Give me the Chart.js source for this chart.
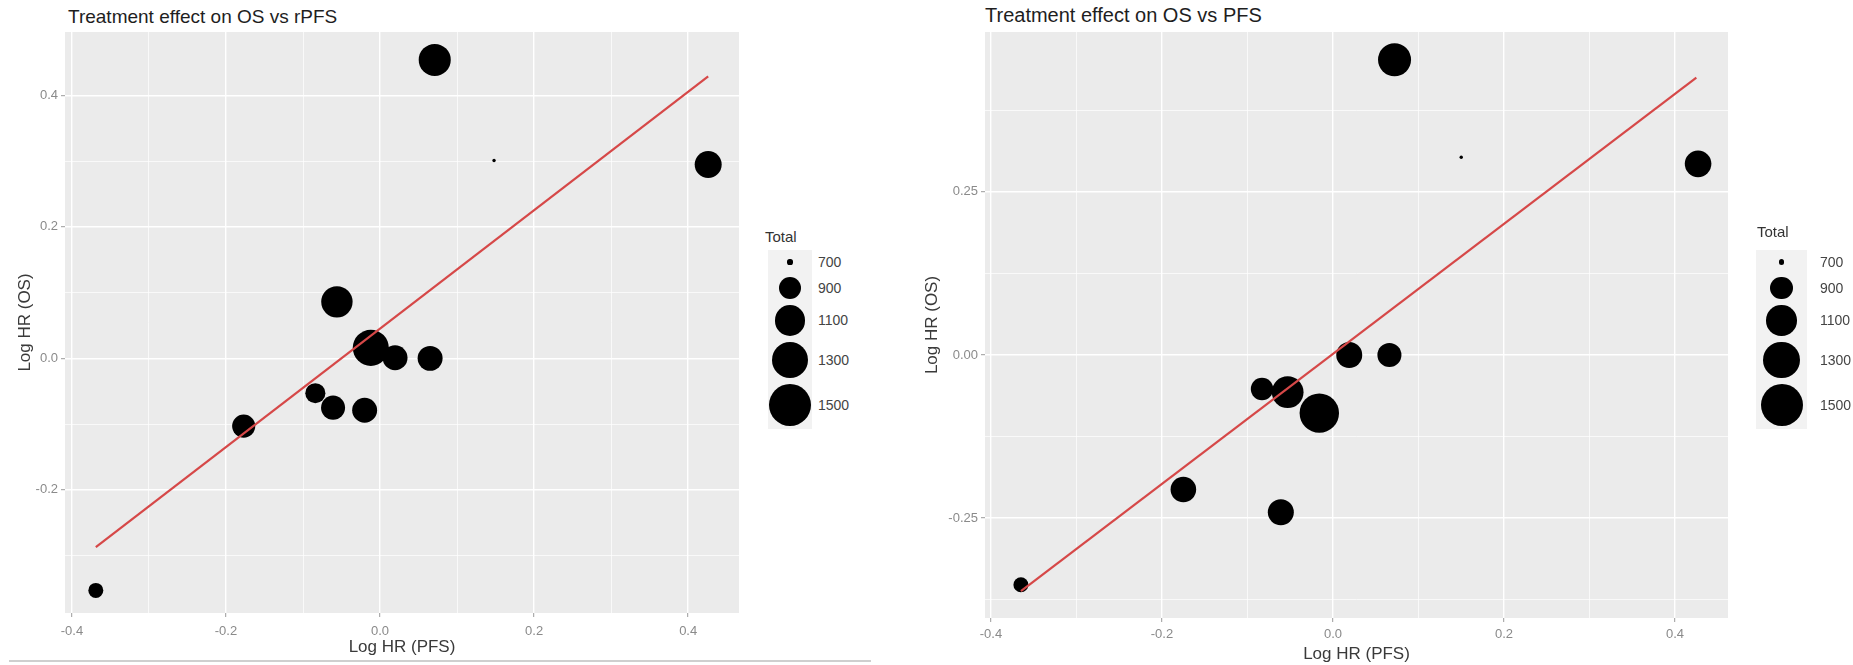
<!DOCTYPE html>
<html>
<head>
<meta charset="utf-8">
<title>Treatment effect on OS vs rPFS / PFS</title>
<script src="https://cdn.jsdelivr.net/npm/chart.js@4.4.0/dist/chart.umd.min.js"></script>
<style>
  body { margin: 0; background: #fff; font-family: "Liberation Sans", Arial, sans-serif; }
  #page { position: relative; width: 1853px; height: 665px; overflow: hidden; }
  canvas { position: absolute; top: 0; }
  .plot-title { position: absolute; color: #1e1e1e; white-space: nowrap; }
  .size-legend { position: absolute; color: #444; }
  .size-legend .lg-title { position: absolute; font-size: 15px; color: #333; white-space: nowrap; }
  .size-legend .lg-keys { position: absolute; background: #f2f2f2; }
  .size-legend .lg-row { position: relative; display: flex; align-items: center; justify-content: center; }
  .size-legend .lg-dot { background: #000; border-radius: 50%; }
  .size-legend .lg-label { position: absolute; font-size: 14px; white-space: nowrap; }
  .sep { position: absolute; left: 9px; top: 660px; width: 862px; height: 2px; background: #cfcfcf; }
</style>
</head>
<body>
<div id="page">
  <div class="plot-title" style="left:68px; top:6px; font-size:19px;">Treatment effect on OS vs rPFS</div>
  <div class="plot-title" style="left:985px; top:4px; font-size:20px;">Treatment effect on OS vs PFS</div>
  <canvas id="chart-rpfs" width="760" height="665" style="left:0px; width:760px; height:665px;"></canvas>
  <canvas id="chart-pfs" width="943" height="665" style="left:910px; width:943px; height:665px;"></canvas>
  <div class="size-legend" id="legend-rpfs"></div>
  <div class="size-legend" id="legend-pfs"></div>
  <div class="sep"></div>
</div>
<script>
// left panel: OS vs rPFS
var pfsLeft   = [0.071, 0.426, 0.148, -0.056, -0.012, 0.0195, 0.065, -0.084, -0.061, -0.020, -0.177, -0.369];
var osLeft    = [0.454, 0.295, 0.301, 0.086, 0.016, 0.001, 0.000, -0.053, -0.075, -0.079, -0.103, -0.353];
var totalLeft = [1150, 1010, 696, 1130, 1280, 960, 960, 860, 940, 960, 920, 780];
var fitLeftX  = [-0.369, 0.426];
var fitLeftY  = [-0.287, 0.429];

// right panel: OS vs PFS
var pfsRight   = [0.072, 0.427, 0.150, 0.019, 0.066, -0.083, -0.053, -0.016, -0.175, -0.061, -0.365];
var osRight    = [0.4525, 0.293, 0.303, 0.000, 0.000, -0.052, -0.057, -0.089, -0.206, -0.241, -0.352];
var totalRight = [1180, 1000, 696, 985, 940, 905, 1140, 1400, 975, 985, 780];
var fitRightX  = [-0.365, 0.425];
var fitRightY  = [-0.362, 0.425];

// axes
var xMajor  = [-0.4, -0.2, 0, 0.2, 0.4];
var xMinor  = [-0.3, -0.1, 0.1, 0.3];
var xLabels = ['-0.4', '-0.2', '0.0', '0.2', '0.4'];
var yMajorLeft  = [-0.2, 0, 0.2, 0.4];
var yMinorLeft  = [-0.3, -0.1, 0.1, 0.3];
var yLabelsLeft = ['-0.2', '0.0', '0.2', '0.4'];
var yMajorRight  = [-0.25, 0, 0.25];
var yMinorRight  = [-0.375, -0.125, 0.125, 0.375];
var yLabelsRight = ['-0.25', '0.00', '0.25'];

// size legend
var legendTotals = ['700', '900', '1100', '1300', '1500'];

// area scale like ggplot: diameter grows with sqrt of total
function dotDiameter(total) {
  var t = Math.max(0, total - 695) / 805;
  return 2 + 40 * Math.sqrt(t);
}

function findIndex(list, v) {
  for (var i = 0; i < list.length; i++) {
    if (Math.abs(list[i] - v) < 1e-6) return i;
  }
  return -1;
}

var panelBg = {
  id: 'panelBg',
  beforeDraw: function(chart) {
    var a = chart.chartArea, c = chart.ctx;
    c.save();
    c.fillStyle = '#ebebeb';
    c.fillRect(a.left, a.top, a.right - a.left, a.bottom - a.top);
    c.restore();
  }
};

function axis(opts) {
  var all = opts.major.concat(opts.minor).sort(function(a, b) { return a - b; });
  return {
    type: 'linear',
    position: opts.position,
    min: opts.min,
    max: opts.max,
    border: { display: false },
    afterBuildTicks: function(scale) {
      scale.ticks = all.map(function(v) { return { value: v }; });
    },
    afterFit: function(scale) {
      if (opts.position === 'left') scale.width = opts.size;
      else scale.height = opts.size;
    },
    grid: {
      color: '#ffffff',
      lineWidth: function(ctx) {
        return findIndex(opts.major, ctx.tick.value) >= 0 ? 1.4 : 0.7;
      },
      drawTicks: true,
      tickLength: 4,
      tickWidth: 1,
      tickColor: function(ctx) {
        return findIndex(opts.major, ctx.tick.value) >= 0 ? '#9a9a9a' : 'rgba(0,0,0,0)';
      }
    },
    ticks: {
      autoSkip: false,
      maxRotation: 0,
      minRotation: 0,
      padding: opts.tickPad,
      color: '#8a8a8a',
      font: { family: '"Liberation Sans", Arial, sans-serif', size: 13 },
      callback: function(value) {
        var i = findIndex(opts.major, value);
        return i >= 0 ? opts.labels[i] : '';
      }
    },
    title: {
      display: true,
      text: opts.title,
      color: '#3a3a3a',
      padding: opts.titlePad,
      font: { family: '"Liberation Sans", Arial, sans-serif', size: 17 }
    }
  };
}

function buildChart(id, d) {
  var points = d.x.map(function(x, i) {
    return { x: x, y: d.y[i], r: dotDiameter(d.total[i]) / 2 };
  });
  var fit = d.fitX.map(function(x, i) { return { x: x, y: d.fitY[i] }; });

  return new Chart(document.getElementById(id), {
    type: 'bubble',
    data: {
      datasets: [
        {
          type: 'line',
          data: fit,
          borderColor: '#d64848',
          borderWidth: 2.2,
          pointRadius: 0,
          fill: false,
          tension: 0,
          order: 0
        },
        {
          data: points,
          backgroundColor: '#000000',
          borderWidth: 0,
          hoverRadius: 0,
          order: 1
        }
      ]
    },
    options: {
      responsive: false,
      animation: false,
      layout: { padding: d.padding },
      plugins: {
        legend: { display: false },
        tooltip: { enabled: false },
        title: { display: false }
      },
      scales: {
        x: axis(d.xAxis),
        y: axis(d.yAxis)
      }
    },
    plugins: [panelBg]
  });
}

buildChart('chart-rpfs', {
  x: pfsLeft, y: osLeft, total: totalLeft, fitX: fitLeftX, fitY: fitLeftY,
  padding: { left: 0, right: 21, top: 32, bottom: 6 },
  xAxis: { position: 'bottom', min: -0.409, max: 0.466, major: xMajor, minor: xMinor, labels: xLabels,
           size: 46, tickPad: 7, title: 'Log HR (PFS)', titlePad: { top: 0, bottom: 1 } },
  yAxis: { position: 'left', min: -0.3874, max: 0.4965, major: yMajorLeft, minor: yMinorLeft, labels: yLabelsLeft,
           size: 65, tickPad: 3, title: 'Log HR (OS)', titlePad: { top: 15, bottom: 0 } }
});

buildChart('chart-pfs', {
  x: pfsRight, y: osRight, total: totalRight, fitX: fitRightX, fitY: fitRightY,
  padding: { left: 0, right: 125, top: 32, bottom: 0 },
  xAxis: { position: 'bottom', min: -0.407, max: 0.462, major: xMajor, minor: xMinor, labels: xLabels,
           size: 47, tickPad: 5, title: 'Log HR (PFS)', titlePad: { top: 0, bottom: 0 } },
  yAxis: { position: 'left', min: -0.403, max: 0.495, major: yMajorRight, minor: yMinorRight, labels: yLabelsRight,
           size: 75, tickPad: 3, title: 'Log HR (OS)', titlePad: { top: 12, bottom: 0 } }
});

// ggplot style size legend
function buildLegend(id, pos) {
  var box = document.getElementById(id);
  box.style.left = pos.left + 'px';
  box.style.top = pos.top + 'px';

  var title = document.createElement('div');
  title.className = 'lg-title';
  title.textContent = 'Total';
  title.style.left = pos.titleLeft + 'px';
  title.style.top = '0px';
  box.appendChild(title);

  var keys = document.createElement('div');
  keys.className = 'lg-keys';
  keys.style.left = '0px';
  keys.style.top = pos.keysTop + 'px';
  keys.style.width = pos.keyWidth + 'px';
  box.appendChild(keys);

  legendTotals.forEach(function(t) {
    var dia = dotDiameter(Number(t));
    var row = document.createElement('div');
    row.className = 'lg-row';
    row.style.height = Math.max(24, dia + 6) + 'px';
    var dot = document.createElement('div');
    dot.className = 'lg-dot';
    dot.style.width = dia + 'px';
    dot.style.height = dia + 'px';
    var lab = document.createElement('div');
    lab.className = 'lg-label';
    lab.textContent = t;
    lab.style.left = pos.labelLeft + 'px';
    row.appendChild(dot);
    row.appendChild(lab);
    keys.appendChild(row);
  });
}

buildLegend('legend-rpfs', { left: 768, top: 228, titleLeft: -3, keysTop: 22, keyWidth: 44, labelLeft: 50 });
buildLegend('legend-pfs', { left: 1756, top: 223, titleLeft: 1, keysTop: 27, keyWidth: 51, labelLeft: 64 });
</script>
</body>
</html>
